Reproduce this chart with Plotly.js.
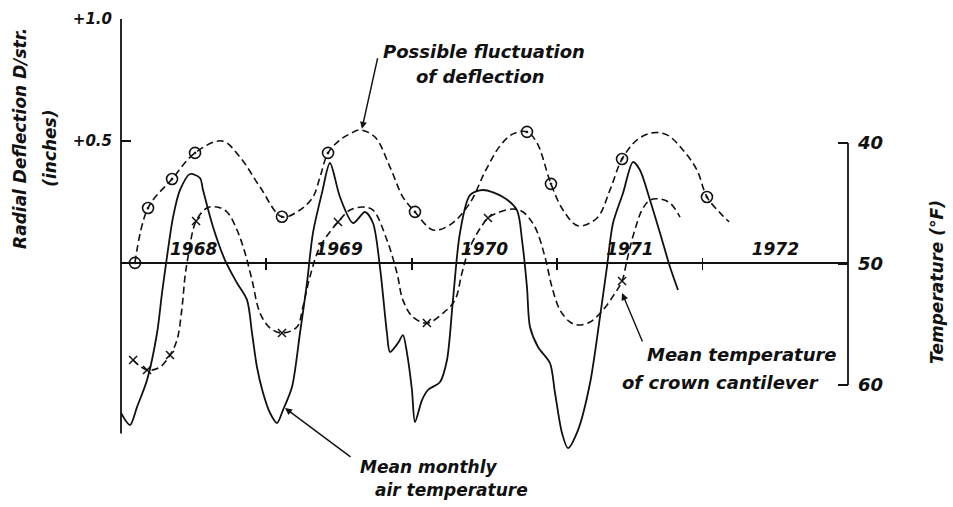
<!DOCTYPE html>
<html>
<head>
<meta charset="utf-8">
<script src="https://cdn.plot.ly/plotly-3.0.1.min.js"></script>
<style>html,body{margin:0;padding:0;background:#fff;}#chart{width:953px;height:507px;}</style>
</head>
<body>
<div id="chart"></div>
<script>
// ---- Data (x in decimal years) ----
// Possible fluctuation of deflection (inches, left axis)
const deflX = [1968.096,1968.186,1968.351,1968.509,1968.695,1968.818,1968.956,1969.107,1969.231,1969.320,1969.369,1969.424,1969.506,1969.575,1969.644,1969.747,1969.850,1969.939,1970.022,1970.146,1970.263,1970.400,1970.503,1970.607,1970.696,1970.792,1970.861,1970.957,1971.040,1971.143,1971.274,1971.363,1971.446,1971.549,1971.652,1971.755,1971.865,1971.961,1972.030,1972.120,1972.182];
const deflY = [0.000,0.225,0.344,0.451,0.500,0.434,0.311,0.189,0.217,0.270,0.352,0.451,0.504,0.529,0.545,0.516,0.393,0.270,0.209,0.135,0.156,0.246,0.373,0.480,0.529,0.537,0.492,0.324,0.217,0.152,0.184,0.299,0.426,0.504,0.533,0.525,0.463,0.381,0.270,0.205,0.168];
// circled observation points on the deflection curve
const deflObsX = [1968.096,1968.186,1968.351,1968.509,1969.107,1969.424,1970.022,1970.792,1970.957,1971.446,1972.030];
const deflObsY = [0.000,0.225,0.344,0.451,0.189,0.451,0.209,0.537,0.324,0.426,0.270];

// Mean temperature of crown cantilever (°F, right axis)
const crownX = [1968.083,1968.179,1968.268,1968.337,1968.385,1968.420,1968.440,1968.461,1968.516,1968.591,1968.660,1968.729,1968.798,1968.853,1968.901,1968.956,1969.025,1969.107,1969.210,1969.251,1969.299,1969.368,1969.492,1969.575,1969.664,1969.733,1969.829,1969.898,1969.939,1970.008,1970.104,1970.215,1970.297,1970.345,1970.400,1970.524,1970.586,1970.696,1970.765,1970.847,1970.916,1970.964,1971.019,1971.088,1971.143,1971.226,1971.315,1971.398,1971.446,1971.480,1971.514,1971.549,1971.583,1971.638,1971.707,1971.776,1971.845];
const crownT = [57.93,58.76,58.51,57.52,56.28,53.55,51.07,49.42,46.45,45.37,45.29,45.70,47.19,49.09,51.32,54.05,55.29,55.70,55.21,53.55,51.07,48.60,46.53,45.54,45.29,45.54,48.02,50.74,52.98,54.38,54.88,54.05,52.98,50.74,48.60,46.20,45.79,45.45,45.70,46.94,49.42,51.90,53.80,54.79,55.04,54.79,53.80,52.40,51.40,49.67,48.02,46.61,45.54,44.71,44.63,44.96,46.12];
const crownObsX = [1968.083,1968.179,1968.337,1968.516,1969.107,1969.492,1970.104,1970.524,1971.446];
const crownObsT = [57.93,58.76,57.52,46.45,55.70,46.53,54.88,46.20,51.40];

// Mean monthly air temperature (°F, right axis)
const airX = [1968.000,1968.062,1968.110,1968.179,1968.248,1968.282,1968.316,1968.358,1968.406,1968.475,1968.543,1968.564,1968.633,1968.715,1968.798,1968.867,1968.901,1968.935,1968.977,1969.025,1969.073,1969.114,1969.176,1969.231,1969.279,1969.320,1969.382,1969.437,1969.506,1969.596,1969.678,1969.733,1969.781,1969.829,1969.850,1969.905,1969.939,1969.967,1970.001,1970.022,1970.070,1970.111,1970.194,1970.242,1970.283,1970.331,1970.400,1970.490,1970.627,1970.723,1970.758,1970.792,1970.813,1970.868,1970.950,1970.985,1971.033,1971.074,1971.143,1971.226,1971.294,1971.342,1971.384,1971.453,1971.521,1971.569,1971.638,1971.707,1971.776,1971.831];
const airT = [62.31,63.31,61.82,59.59,55.70,52.40,49.42,46.12,43.88,42.56,42.89,43.88,46.94,49.67,51.57,52.98,55.70,58.51,60.66,62.31,63.14,62.07,60.17,55.70,51.57,47.44,44.13,41.65,44.46,46.61,45.70,46.61,50.25,55.70,57.27,56.53,55.87,57.36,60.41,63.06,61.24,60.41,59.75,57.93,52.98,47.44,44.30,43.88,44.46,45.54,48.02,51.90,55.21,56.86,58.18,60.66,63.97,65.21,63.72,59.83,54.38,50.25,46.61,44.13,41.57,42.23,44.71,47.44,50.25,52.15];

// Axis ticks / labels
const yearLabels = ['1968','1969','1970','1971','1972'];
const yearMid = [1968.5,1969.5,1970.5,1971.5,1972.5];
const yearBounds = [1969,1970,1971,1972];
const deflTicks = [0.5,1.0];
const deflTickText = ['+0.5','+1.0'];
const tempTicks = [40,50,60];

// ---- Styling ----
const INK = '#111';
const FONT = {family:'DejaVu Sans', style:'italic', weight:'bold', color:INK};
const f = s => Object.assign({}, FONT, {size:s});
const DASH = '7px,4px';

const traces = [
  {x:deflX, y:deflY, mode:'lines', line:{color:INK, width:1.6, dash:DASH, shape:'spline', smoothing:1}, yaxis:'y', hoverinfo:'skip'},
  {x:deflObsX, y:deflObsY, mode:'markers', marker:{symbol:'circle-open-dot', size:11, color:INK, line:{color:INK, width:1.6}}, yaxis:'y', hoverinfo:'skip'},
  {x:crownX, y:crownT, mode:'lines', line:{color:INK, width:1.6, dash:DASH, shape:'spline', smoothing:1}, yaxis:'y2', hoverinfo:'skip'},
  {x:crownObsX, y:crownObsT, mode:'markers', marker:{symbol:'x-thin-open', size:8, color:INK, line:{color:INK, width:1.5}}, yaxis:'y2', hoverinfo:'skip'},
  {x:airX, y:airT, mode:'lines', line:{color:INK, width:1.8, shape:'spline', smoothing:0.8}, yaxis:'y2', hoverinfo:'skip'}
];

const plotH = 507 - 19 - 49; // plot area height in px
const zeroPos = 0.8 / 1.8;     // paper fraction of deflection 0

const layout = {
  width:953, height:507,
  margin:{l:121, r:105, t:19, b:49},
  paper_bgcolor:'#fff', plot_bgcolor:'#fff',
  showlegend:false,
  xaxis:{
    range:[1968,1973], anchor:'free', position: zeroPos + 6/plotH, side:'top',
    showline:false, showgrid:false, zeroline:false,
    tickmode:'array', tickvals:yearMid, ticktext:yearLabels, ticks:'',
    tickfont:f(17), ticklabelstandoff:-2,
    minor:{tickmode:'array', tickvals:yearBounds, ticks:'inside', ticklen:12, tickwidth:1.8, tickcolor:INK, showgrid:false}
  },
  yaxis:{
    range:[-0.8,1.0], showgrid:false, showline:false,
    zeroline:true, zerolinecolor:INK, zerolinewidth:1.3,
    tickmode:'array', tickvals:deflTicks, ticktext:deflTickText,
    ticks:'inside', ticklen:10, tickwidth:1.5, tickcolor:INK,
    tickfont:f(15), ticklabelstandoff:8
  },
  yaxis2:{
    overlaying:'y', side:'right', range:[66.03,29.75],
    showgrid:false, showline:false, zeroline:false,
    tickmode:'array', tickvals:tempTicks,
    ticks:'inside', ticklen:10, tickwidth:1.5, tickcolor:INK,
    tickfont:f(18), ticklabelstandoff:9
  },
  shapes:[
    {type:'line', xref:'paper', x0:0, x1:0, yref:'y', y0:-0.7, y1:1.0, line:{color:INK, width:1.8}},
    {type:'line', xref:'paper', x0:1, x1:1, yref:'y2', y0:40, y1:60, line:{color:INK, width:1.8}}
  ],
  annotations:[
    {xref:'paper', yref:'paper', x:-0.139, y:0.729, text:'Radial Deflection D/str.', textangle:-90, showarrow:false, font:f(17), xanchor:'center', yanchor:'middle'},
    {xref:'paper', yref:'paper', x:-0.098, y:0.706, text:'(inches)', textangle:-90, showarrow:false, font:f(17), xanchor:'center', yanchor:'middle'},
    {xref:'paper', yref:'paper', x:1.1224, y:0.401, text:'Temperature (°F)', textangle:-90, showarrow:false, font:f(17), xanchor:'center', yanchor:'middle'},

    {xref:'paper', yref:'paper', x:0.3576, y:0.925, text:'Possible fluctuation', showarrow:false, font:f(18), xanchor:'left', yanchor:'middle'},
    {xref:'paper', yref:'paper', x:0.403, y:0.870, text:'of deflection', showarrow:false, font:f(18), xanchor:'left', yanchor:'middle'},
    {x:1969.657, y:0.55, xref:'x', yref:'y', text:'', showarrow:true, ax:16, ay:-72, arrowhead:2, arrowsize:1, arrowwidth:1.4, arrowcolor:INK},

    {xref:'paper', yref:'paper', x:0.721, y:0.235, text:'Mean temperature', showarrow:false, font:f(18), xanchor:'left', yanchor:'middle'},
    {xref:'paper', yref:'paper', x:0.686, y:0.171, text:'of crown cantilever', showarrow:false, font:f(18), xanchor:'left', yanchor:'middle'},
    {x:1971.446, y:52.4, xref:'x', yref:'y2', text:'', showarrow:true, ax:21, ay:50, arrowhead:2, arrowsize:1, arrowwidth:1.4, arrowcolor:INK},

    {xref:'paper', yref:'paper', x:0.326, y:-0.0205, text:'Mean monthly', showarrow:false, font:f(17), xanchor:'left', yanchor:'middle'},
    {xref:'paper', yref:'paper', x:0.3466, y:-0.073, text:'air temperature', showarrow:false, font:f(17), xanchor:'left', yanchor:'middle'},
    {x:1969.128, y:61.9, xref:'x', yref:'y2', text:'', showarrow:true, ax:67, ay:50, arrowhead:2, arrowsize:1, arrowwidth:1.4, arrowcolor:INK}
  ]
};

Plotly.newPlot('chart', traces, layout, {displayModeBar:false, staticPlot:true});
</script>
</body>
</html>
